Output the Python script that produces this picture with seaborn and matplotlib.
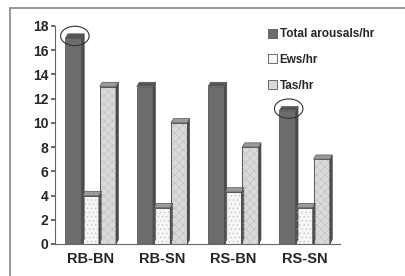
import matplotlib
matplotlib.use("Agg")
import matplotlib.pyplot as plt
import matplotlib.patches as mpatches
from matplotlib.lines import Line2D
import numpy as np
import pandas as pd
import seaborn as sns

categories = ["RB-BN", "RB-SN", "RS-BN", "RS-SN"]
series = ["Total arousals/hr", "Ews/hr", "Tas/hr"]
total_arousals = [17.0, 13.0, 13.0, 11.0]
ews = [4.0, 3.0, 4.3, 3.0]
tas = [13.0, 10.0, 8.0, 7.0]
circled = ["RB-BN", "RS-SN"]

df = pd.DataFrame({
    "group": categories * 3,
    "series": [s for s in series for _ in categories],
    "value": total_arousals + ews + tas,
})

FACE = {"Total arousals/hr": "#6c6c6c", "Ews/hr": "#f6f6f6", "Tas/hr": "#dadada"}
HATCH = {"Total arousals/hr": "", "Ews/hr": "....", "Tas/hr": "xxxx"}
HATCH_COL = "#bdbdbd"

sns.set_theme(style="white")
plt.rcParams["font.family"] = ["Liberation Sans", "DejaVu Sans"]
plt.rcParams["hatch.linewidth"] = 0.4

fig = plt.figure(figsize=(4.05, 2.76), dpi=100)
ax = fig.add_axes([0.136, 0.116, 0.704, 0.79])
sns.barplot(data=df, x="group", y="value", hue="series", palette=FACE,
            width=0.72, gap=0.05, saturation=1, ax=ax, legend=False,
            edgecolor="#555555", linewidth=0.6)

ax.set_ylim(0, 18)
ax.set_xlim(-0.5, 3.5)
ax.set_yticks(range(0, 19, 2))
ax.set_xlabel("")
ax.set_ylabel("")
ax.tick_params(axis="y", labelsize=10, length=3, pad=2, left=True, color="#555555")
ax.tick_params(axis="x", labelsize=10.5, length=0, pad=6)
for lab in ax.get_xticklabels() + ax.get_yticklabels():
    lab.set_fontweight("bold")
for side in ["top", "right"]:
    ax.spines[side].set_visible(False)
ax.spines["left"].set_color("#666666")
ax.spines["bottom"].set_color("#666666")
ax.spines["left"].set_linewidth(0.8)
ax.spines["bottom"].set_linewidth(0.8)

# faint hatching overlays + fake 3D tops and sides derived from each bar
dx, dy = 0.035, 0.35
for container, name in zip(ax.containers, series):
    for bar in container:
        x0, w, h = bar.get_x(), bar.get_width(), bar.get_height()
        if HATCH[name]:
            ax.add_patch(mpatches.Rectangle((x0, 0), w, h, facecolor="none", edgecolor=HATCH_COL,
                                            linewidth=0, hatch=HATCH[name]))
            ax.add_patch(mpatches.Rectangle((x0, 0), w, h, facecolor="none", edgecolor="#555555",
                                            linewidth=0.6))
        top = mpatches.Polygon([(x0, h), (x0 + dx, h + dy), (x0 + w + dx, h + dy), (x0 + w, h)],
                               closed=True, facecolor="#9a9a9a" if name != "Total arousals/hr" else "#555555",
                               edgecolor="#555555", linewidth=0.5)
        side = mpatches.Polygon([(x0 + w, 0), (x0 + w + dx, dy), (x0 + w + dx, h + dy), (x0 + w, h)],
                                closed=True, facecolor="#4a4a4a", edgecolor="#4a4a4a", linewidth=0.4)
        ax.add_patch(side)
        ax.add_patch(top)

# circles around highlighted bars
tot = ax.containers[0]
for bar, cat in zip(tot, categories):
    if cat in circled:
        cx = bar.get_x() + bar.get_width() / 2 + dx / 2
        ax.add_patch(mpatches.Ellipse((cx, bar.get_height() + dy / 2), width=0.4, height=1.6,
                                      fill=False, edgecolor="#333333", linewidth=0.8, clip_on=False))

handles = [mpatches.Patch(facecolor=FACE[s], edgecolor="#555555", linewidth=0.6, label=s)
           for s in series]
leg = ax.legend(handles=handles, loc="upper left", bbox_to_anchor=(0.73, 1.01), frameon=False,
                fontsize=8.5, handlelength=0.8, handleheight=0.8, handletextpad=0.2, labelspacing=1.15,
                borderaxespad=0)
for t in leg.get_texts():
    t.set_fontweight("bold")

# outer frame
fig.add_artist(Line2D([0.025, 0.025], [0.0, 0.97], color="#888888", linewidth=1.2))
fig.add_artist(Line2D([0.025, 1.0], [0.97, 0.97], color="#888888", linewidth=1.2))

fig.savefig("out.png", dpi=100)
